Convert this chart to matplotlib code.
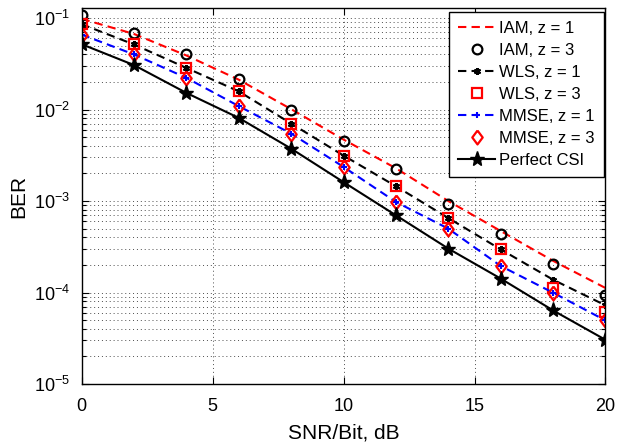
import numpy as np
import matplotlib
matplotlib.use("Agg")
import matplotlib.pyplot as plt
from matplotlib.ticker import LogLocator, NullFormatter, FixedLocator

plt.rcParams['font.family'] = ['Liberation Sans', 'DejaVu Sans']
plt.rcParams['mathtext.fontset'] = 'custom'
plt.rcParams['mathtext.rm'] = 'Liberation Sans'

snr = [0, 2, 4, 6, 8, 10, 12, 14, 16, 18, 20]
iam_z1 = [0.098, 0.067, 0.039, 0.0212, 0.0101, 0.0047, 0.00228, 0.00100, 0.00047, 0.000222, 0.000112]
iam_z3 = [0.108, 0.0689, 0.040, 0.0213, 0.0099, 0.00458, 0.00226, 0.000937, 0.00044, 0.000204, 0.0000946]
wls_z1 = [0.0857, 0.0514, 0.0285, 0.0158, 0.00703, 0.00314, 0.00145, 0.000652, 0.000296, 0.000138, 0.0000724]
wls_z3 = [0.0857, 0.0514, 0.0285, 0.0158, 0.00703, 0.00314, 0.00145, 0.000652, 0.000296, 0.000112, 0.000062]
mmse_z1 = [0.066, 0.040, 0.0222, 0.0109, 0.00546, 0.00236, 0.000976, 0.000499, 0.000195, 0.0000995, 0.0000495]
mmse_z3 = [0.066, 0.040, 0.0222, 0.0109, 0.00546, 0.00236, 0.000976, 0.000499, 0.000195, 0.0000995, 0.0000495]
perfect = [0.0518, 0.0306, 0.0152, 0.0081, 0.00374, 0.00161, 0.000698, 0.000302, 0.000142, 0.0000637, 0.0000304]

labels = ['IAM, z = 1', 'IAM, z = 3', 'WLS, z = 1', 'WLS, z = 3',
          'MMSE, z = 1', 'MMSE, z = 3', 'Perfect CSI']

diamond = [(0, 1), (0.75, 0), (0, -1), (-0.75, 0), (0, 1)]

fig = plt.figure(figsize=(6.2, 4.44), dpi=100)
ax = fig.add_axes([0.1315, 0.1351, 0.9766 - 0.1315, 0.982 - 0.1351])

dash = (4, 2.5)
ax.plot(snr, iam_z1, color='red', lw=1.5, ls='--', dashes=dash, label=labels[0])
ax.plot(snr, iam_z3, ls='none', marker='o', ms=7, mfc='none', mec='black', mew=1.6, label=labels[1])
ax.plot(snr, wls_z1, color='black', lw=1.5, ls='--', dashes=dash, marker=(6, 2, 0), ms=5, mew=1.5, label=labels[2])
ax.plot(snr, wls_z3, ls='none', marker='s', ms=6.5, mfc='none', mec='red', mew=1.6, label=labels[3])
ax.plot(snr, mmse_z1, color='blue', lw=1.5, ls='--', dashes=dash, marker='+', ms=5, mew=1.5, label=labels[4])
ax.plot(snr, mmse_z3, ls='none', marker=diamond, ms=10, mfc='none', mec='red', mew=1.6, label=labels[5])
ax.plot(snr, perfect, color='black', lw=1.5, ls='-', marker='*', ms=11, mfc='black', mec='black', label=labels[6])

ax.set_yscale('log')
ax.set_xlim(0, 20)
ax.set_ylim(1e-5, 0.1287)
ax.xaxis.set_major_locator(FixedLocator([0, 5, 10, 15, 20]))
ax.yaxis.set_major_locator(LogLocator(base=10, numticks=10))
ax.yaxis.set_minor_locator(LogLocator(base=10, subs=np.arange(2, 10), numticks=20))
ax.yaxis.set_minor_formatter(NullFormatter())

ax.grid(True, which='major', axis='both', color='0.3', ls=(0, (1, 3)), lw=0.7)
ax.grid(True, which='minor', axis='y', color='0.3', ls=(0, (1, 3)), lw=0.7)
ax.set_axisbelow(True)

ax.tick_params(which='both', direction='in', top=True, right=True, labelsize=13)
ax.tick_params(axis='x', which='major', pad=10)
ax.tick_params(axis='y', which='major', pad=8)
ax.tick_params(which='major', length=5, width=0.8)
ax.tick_params(which='minor', length=3, width=0.8)
for s in ax.spines.values():
    s.set_linewidth(1.0)

ax.set_xlabel('SNR/Bit, dB', fontsize=15, labelpad=6)
ax.set_ylabel('BER', fontsize=15, labelpad=4)

leg = ax.legend(loc='upper right', bbox_to_anchor=(0.997, 0.989), fontsize=12,
                frameon=True, fancybox=False, edgecolor='black', framealpha=1,
                handlelength=2.2, handletextpad=0.25, labelspacing=0.42,
                borderpad=0.55, borderaxespad=0.0)
leg.get_frame().set_linewidth(1.0)

fig.savefig('out.png', dpi=100)
